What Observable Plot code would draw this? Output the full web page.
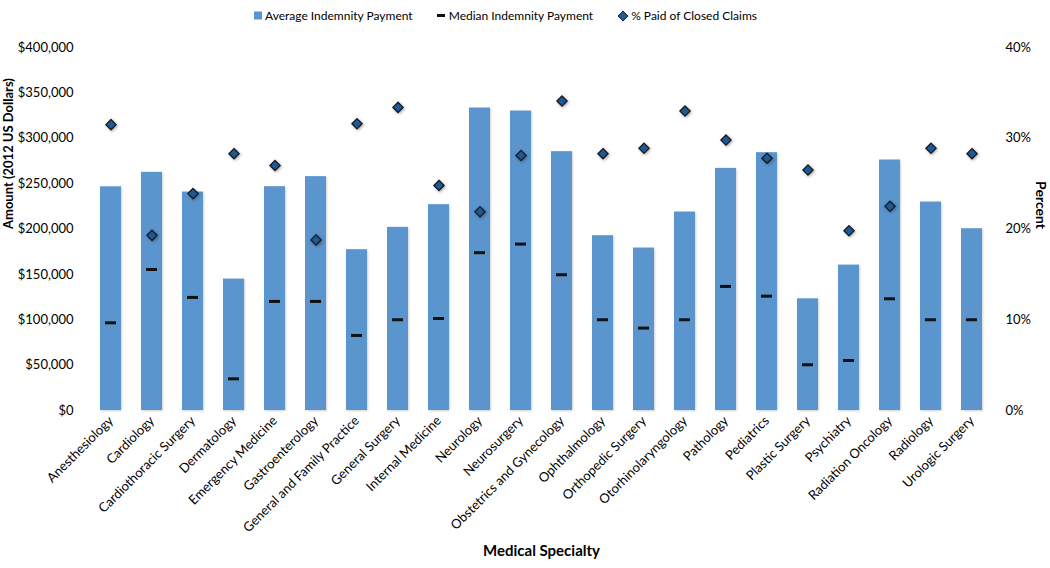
<!DOCTYPE html>
<html><head><meta charset="utf-8">
<script src="https://cdn.jsdelivr.net/npm/d3@7"></script>
<script src="https://cdn.jsdelivr.net/npm/@observablehq/plot@0.6"></script>
<style>
body{margin:0;background:#fff;font-family:Lato,"Open Sans",sans-serif;color:#000;}
#legend{height:32px;box-sizing:border-box;padding:8px 0 0 254px;font-size:12px;display:flex;gap:24px;align-items:flex-start;}
#legend .item{display:flex;align-items:center;white-space:nowrap;}
#legend svg{margin-right:2px;}
</style></head><body>
<div id="legend"></div>
<div id="chart"></div>
<script>
const specialties = ["Anesthesiology","Cardiology","Cardiothoracic Surgery","Dermatology","Emergency Medicine","Gastroenterology","General and Family Practice","General Surgery","Internal Medicine","Neurology","Neurosurgery","Obstetrics and Gynecology","Ophthalmology","Orthopedic Surgery","Otorhinolaryngology","Pathology","Pediatrics","Plastic Surgery","Psychiatry","Radiation Oncology","Radiology","Urologic Surgery"];
const avgPayment = [246500,262400,240700,144800,246600,257700,177200,201800,226800,333300,330000,285200,192600,179000,218700,266800,284100,123100,160200,276000,229700,200300];
const medianPayment = [96600,155400,124600,34900,120200,120200,82700,100000,101400,173900,183400,149600,100000,90800,100000,136700,126000,50400,55100,123100,100000,100000];
const pctPaid = [31.5,19.3,23.9,28.3,27.0,18.8,31.6,33.4,24.8,21.9,28.1,34.1,28.3,28.9,33.0,29.8,27.8,26.5,19.8,22.5,28.9,28.3];
const dollarTicks = [0,50000,100000,150000,200000,250000,300000,350000,400000];
const pctTicks = [0,10,20,30,40];
const PCT_TO_Y = 10000; // 40% on the right axis lines up with $400,000 on the left

const data = specialties.map((s,i)=>({s, avg:avgPayment[i], med:medianPayment[i], pct:pctPaid[i]}));

const legendItems = [
  {label:"Average Indemnity Payment", sw:'<svg width="9" height="9"><rect width="8" height="8" y="0.5" fill="#5b95cd"/></svg>'},
  {label:"Median Indemnity Payment", sw:'<svg width="10" height="9"><rect x="0" y="3" width="8" height="3" fill="#111"/></svg>'},
  {label:"% Paid of Closed Claims", sw:'<svg width="12" height="12"><path d="M6,1L11,6L6,11L1,6Z" fill="#1b5c9c" stroke="#222" stroke-width="1"/></svg>'}
];
const lg = document.getElementById("legend");
for (const it of legendItems) {
  const d = document.createElement("div");
  d.className = "item";
  d.innerHTML = it.sw + "<span>" + it.label + "</span>";
  lg.appendChild(d);
}

const font = "Lato, 'Open Sans', sans-serif";
const chart = Plot.plot({
  width:1050, height:536,
  marginTop:15, marginBottom:158, marginLeft:89, marginRight:57,
  style:{fontFamily:font, fontSize:"13px", color:"#000", background:"#fff"},
  x:{domain:specialties, paddingInner:0.48, paddingOuter:0.24, label:null},
  y:{domain:[0,400000], label:null},
  marks:[
    Plot.barY(data,{x:"s", y:"avg", fill:"#5b95cd"}),
    Plot.tickY(data,{x:"s", y:"med", stroke:"#111", strokeWidth:3, insetLeft:5, insetRight:5}),
    Plot.dot(data,{x:"s", y:d=>d.pct*PCT_TO_Y, symbol:"diamond2", r:4.6, fill:"#1b5a98", stroke:"#1a1a1a", strokeWidth:1.3}),
    Plot.axisY({ticks:dollarTicks, tickSize:0, tickPadding:16, tickFormat:d=>"$"+d3.format(",")(d), label:null, fontSize:13}),
    Plot.axisY({anchor:"right", ticks:pctTicks.map(p=>p*PCT_TO_Y), tickSize:0, tickPadding:12, tickFormat:d=>(d/PCT_TO_Y)+"%", label:null, fontSize:13}),
    Plot.axisX({tickRotate:-45, tickSize:0, tickPadding:8, label:null, fontSize:13}),
    Plot.text(["Amount (2012 US Dollars)"],{text:d=>d, frameAnchor:"left", dx:-81, rotate:-90, fontWeight:"bold", fontSize:13}),
    Plot.text(["Percent"],{text:d=>d, frameAnchor:"right", dx:47, rotate:90, fontWeight:"bold", fontSize:14}),
    Plot.text(["Medical Specialty"],{text:d=>d, frameAnchor:"bottom", dy:145, fontWeight:"bold", fontSize:15})
  ]
});
d3.select(chart).selectAll("g[aria-label='bar'] rect").style("filter","drop-shadow(1px 1px 1px rgba(0,0,0,0.18))");
d3.select(chart).selectAll("g[aria-label='dot'] path").style("filter","drop-shadow(1px 1px 1.5px rgba(0,0,0,0.35))");
document.getElementById("chart").appendChild(chart);
</script>
</body></html>
